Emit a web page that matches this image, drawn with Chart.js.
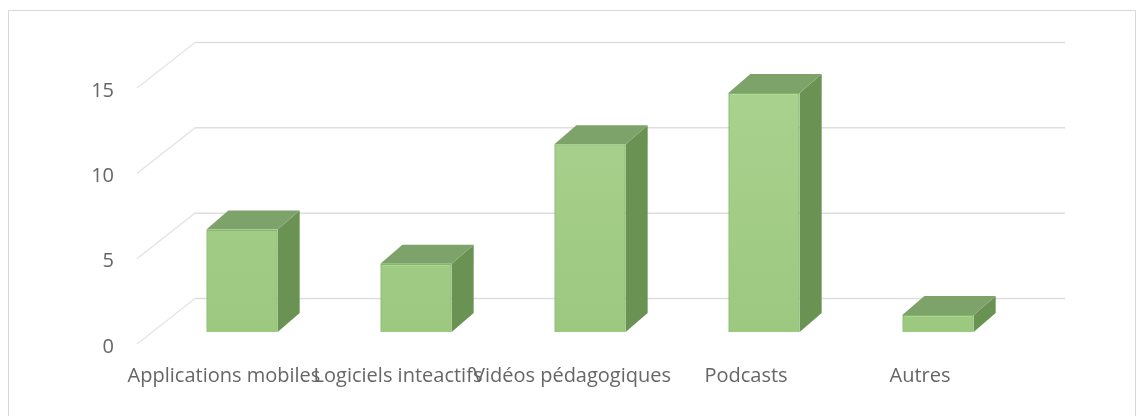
<!DOCTYPE html>
<html>
<head>
<meta charset="utf-8">
<script src="https://cdn.jsdelivr.net/npm/chart.js@4.4.1/dist/chart.umd.min.js"></script>
<style>
  html, body { margin: 0; padding: 0; background: #fff; overflow: hidden; }
  #wrap { position: relative; width: 1146px; height: 416px; }
  #frame {
    position: absolute; left: 8px; top: 10px; width: 1128px; height: 420px;
    border: 1px solid #d9d9d9; box-sizing: border-box;
  }
  #chart { position: absolute; left: 0; top: 0; }
</style>
</head>
<body>
<div id="wrap">
  <div id="frame"></div>
  <canvas id="chart" width="1146" height="416"></canvas>
</div>
<script>
// data
const categories = ['Applications mobiles', 'Logiciels inteactifs', 'Vidéos pédagogiques', 'Podcasts', 'Autres'];
const values = [6, 4, 11, 14, 1];
const yTicks = [0, 5, 10, 15];

// fake 3D: offsets from the bar plane (the one Chart.js scales describe)
const FRONT = { dx: -18, dy: 12 };
const BACK = { dx: 40, dy: -33.5 };
const DEPTH = { dx: 22, dy: -19 };

const poly = (ctx, pts, fill) => {
    ctx.beginPath();
    ctx.moveTo(pts[0][0], pts[0][1]);
    for (let i = 1; i < pts.length; i++) ctx.lineTo(pts[i][0], pts[i][1]);
    ctx.closePath();
    ctx.fillStyle = fill;
    ctx.fill();
};

const walls3d = {
    id: 'walls3d',
    beforeDatasetsDraw(chart) {
        const { ctx, chartArea: a, scales: { y } } = chart;
        ctx.save();
        ctx.lineWidth = 1.5;
        yTicks.forEach(v => {
            const py = y.getPixelForValue(v);
            // left wall diagonal
            ctx.strokeStyle = '#e6e6e6';
            ctx.beginPath();
            ctx.moveTo(a.left + FRONT.dx, py + FRONT.dy);
            ctx.lineTo(a.left + BACK.dx, py + BACK.dy);
            ctx.stroke();
            // back wall line
            ctx.strokeStyle = '#dedede';
            ctx.beginPath();
            ctx.moveTo(a.left + BACK.dx, py + BACK.dy);
            ctx.lineTo(a.right + BACK.dx, py + BACK.dy);
            ctx.stroke();
        });

        // top and side faces of every bar
        const meta = chart.getDatasetMeta(0);
        meta.data.forEach(bar => {
            const l = bar.x - bar.width / 2, r = bar.x + bar.width / 2;
            const t = bar.y, b = bar.base;
            poly(ctx, [[r, t], [r + DEPTH.dx, t + DEPTH.dy], [r + DEPTH.dx, b + DEPTH.dy], [r, b]], '#6a9353');
            poly(ctx, [[l, t], [r, t], [r + DEPTH.dx, t + DEPTH.dy], [l + DEPTH.dx, t + DEPTH.dy]], '#7ea36a');
        });
        ctx.restore();
    }
};

// front faces: light green, a little darker toward the floor
const frontFill = (c) => {
    const a = c.chart.chartArea;
    if (!a) return '#a6cf8b';
    const g = c.chart.ctx.createLinearGradient(0, a.top, 0, a.bottom);
    g.addColorStop(0, '#aad28f');
    g.addColorStop(1, '#9cc880');
    return g;
};

new Chart(document.getElementById('chart'), {
    type: 'bar',
    data: {
        labels: categories,
        datasets: [{
            data: values,
            backgroundColor: frontFill,
            borderColor: '#82b963',
            borderWidth: 1.5,
            barPercentage: 1,
            categoryPercentage: 0.41
        }]
    },
    options: {
        responsive: false,
        animation: false,
        devicePixelRatio: 1,
        layout: { padding: { left: 0, top: 76, right: 121, bottom: 0 } },
        plugins: { legend: { display: false }, tooltip: { enabled: false } },
        scales: {
            x: {
                grid: { display: false, drawTicks: false },
                border: { display: false },
                ticks: {
                    autoSkip: false, maxRotation: 0, minRotation: 0,
                    padding: 32, labelOffset: -18,
                    color: '#666666',
                    font: { family: 'Open Sans', size: 20 }
                },
                afterFit: s => { s.height = 84; }
            },
            y: {
                min: 0, max: 15,
                grid: { display: false, drawTicks: false },
                border: { display: false },
                ticks: {
                    stepSize: 5, padding: 41, labelOffset: 15,
                    color: '#666666',
                    font: { family: 'Open Sans', size: 20 }
                },
                afterFit: s => { s.width = 155; }
            }
        }
    },
    plugins: [walls3d]
});
</script>
</body>
</html>
